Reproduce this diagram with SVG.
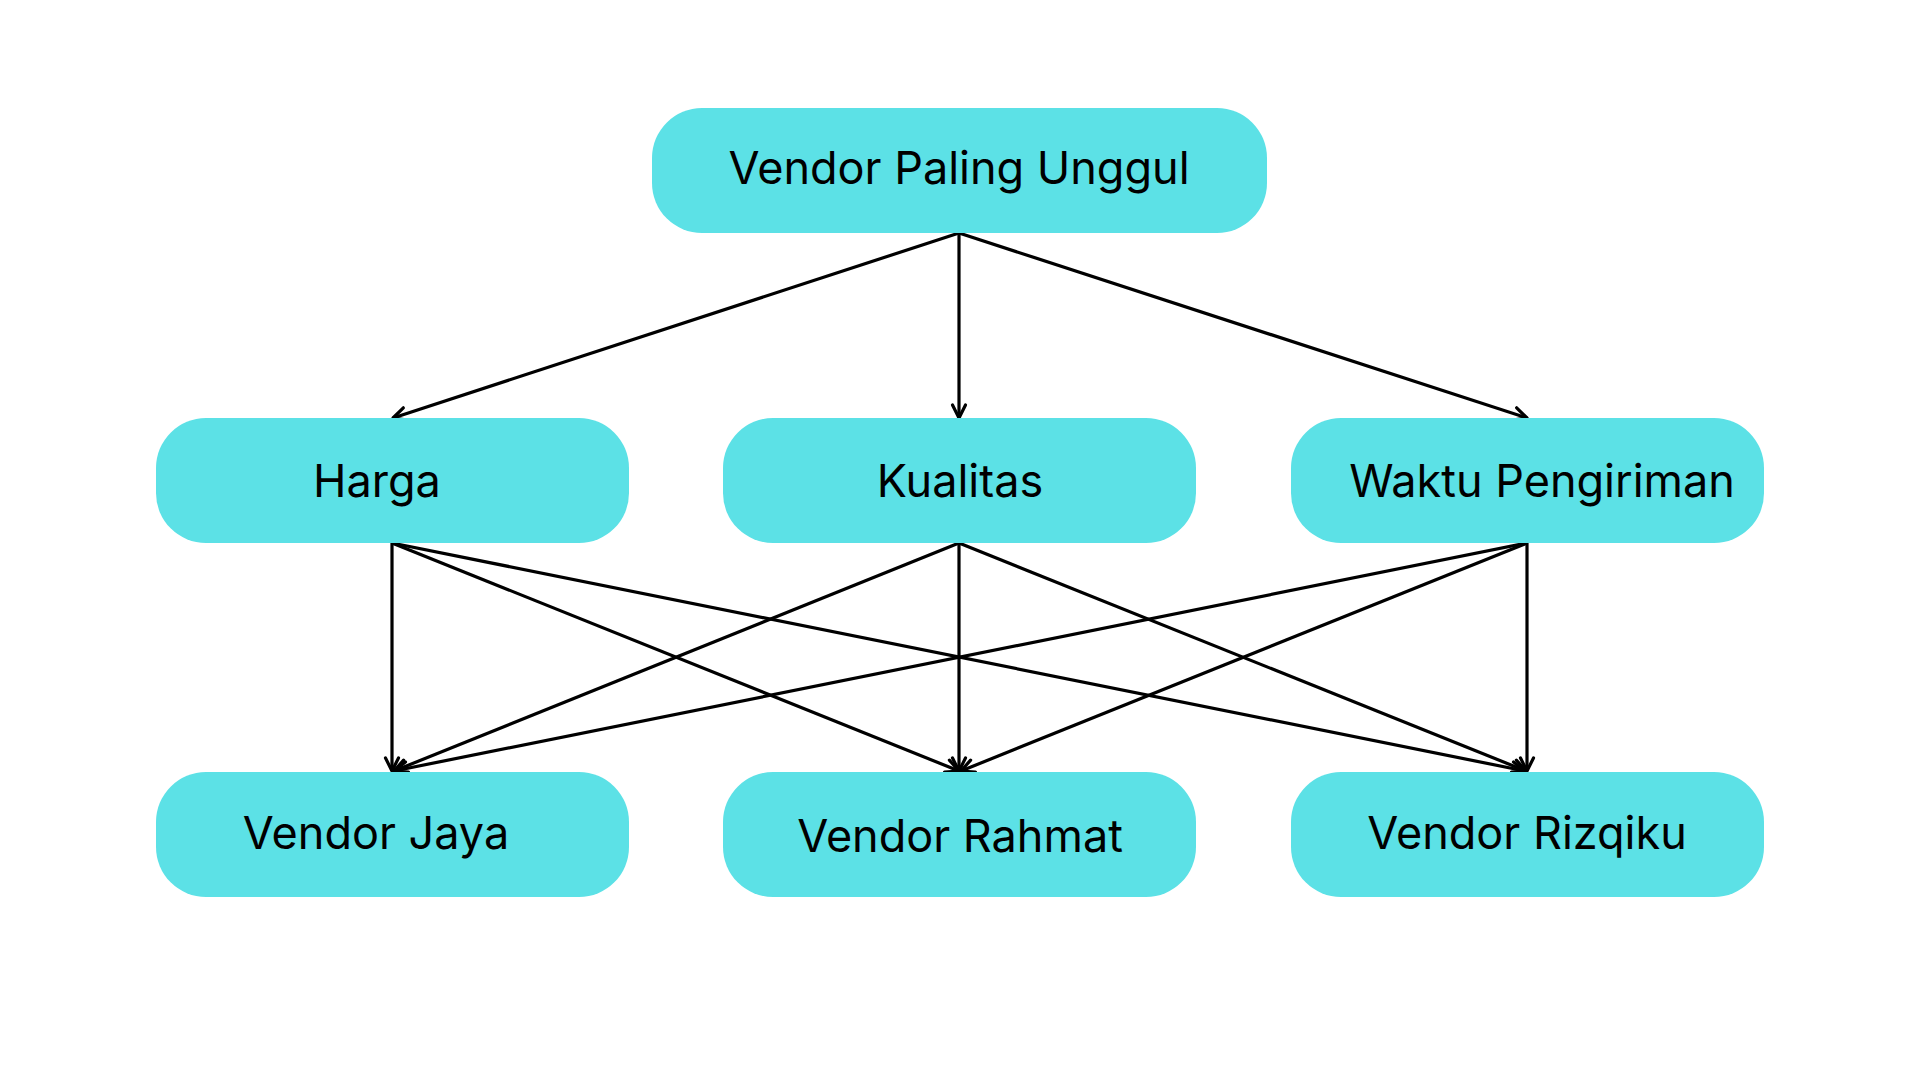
<svg xmlns="http://www.w3.org/2000/svg" width="1920" height="1080" viewBox="0 0 1920 1080">
<style>
.box{fill:#5CE1E6;}
.lbl{font-family:"Inter","Liberation Sans",sans-serif;font-size:45px;fill:#000;text-anchor:middle;}
.con{stroke:#000;stroke-width:3.2;fill:none;marker-end:url(#arr);}
</style>
<defs>
<marker id="arr" markerUnits="userSpaceOnUse" viewBox="-16 -10 20 20" refX="0" refY="0" markerWidth="20" markerHeight="20" orient="auto">
<path d="M-13,-6.5 L0,0 L-13,6.5" fill="none" stroke="#000" stroke-width="3.2" stroke-linecap="round" stroke-linejoin="round"/>
</marker>
</defs>
<rect width="1920" height="1080" fill="#fff"/>
<g id="connectors">
<line class="con" x1="959" y1="233" x2="393" y2="418"/>
<line class="con" x1="959" y1="233" x2="959" y2="418"/>
<line class="con" x1="959" y1="233" x2="1527" y2="418"/>
<line class="con" x1="392" y1="543" x2="392" y2="771"/>
<line class="con" x1="392" y1="543" x2="959" y2="771"/>
<line class="con" x1="392" y1="543" x2="1525" y2="771"/>
<line class="con" x1="959" y1="543" x2="394" y2="771"/>
<line class="con" x1="959" y1="543" x2="959" y2="771"/>
<line class="con" x1="959" y1="543" x2="1526" y2="771"/>
<line class="con" x1="1527" y1="543" x2="394" y2="771"/>
<line class="con" x1="1527" y1="543" x2="961" y2="771"/>
<line class="con" x1="1527" y1="543" x2="1527" y2="771"/>
</g>
<g id="node-top">
<rect class="box" x="652" y="108" width="615" height="125" rx="50"/>
<text class="lbl" x="959" y="184">Vendor Paling Unggul</text>
</g>
<g id="node-harga">
<rect class="box" x="156" y="418" width="473" height="125" rx="50"/>
<text class="lbl" x="377" y="497">Harga</text>
</g>
<g id="node-kualitas">
<rect class="box" x="723" y="418" width="473" height="125" rx="50"/>
<text class="lbl" x="960" y="497">Kualitas</text>
</g>
<g id="node-waktu">
<rect class="box" x="1291" y="418" width="473" height="125" rx="50"/>
<text class="lbl" x="1542" y="497">Waktu Pengiriman</text>
</g>
<g id="node-jaya">
<rect class="box" x="156" y="772" width="473" height="125" rx="50"/>
<text class="lbl" x="376" y="849">Vendor Jaya</text>
</g>
<g id="node-rahmat">
<rect class="box" x="723" y="772" width="473" height="125" rx="50"/>
<text class="lbl" x="960" y="852">Vendor Rahmat</text>
</g>
<g id="node-rizqiku">
<rect class="box" x="1291" y="772" width="473" height="125" rx="50"/>
<text class="lbl" x="1527" y="849">Vendor Rizqiku</text>
</g>
</svg>
